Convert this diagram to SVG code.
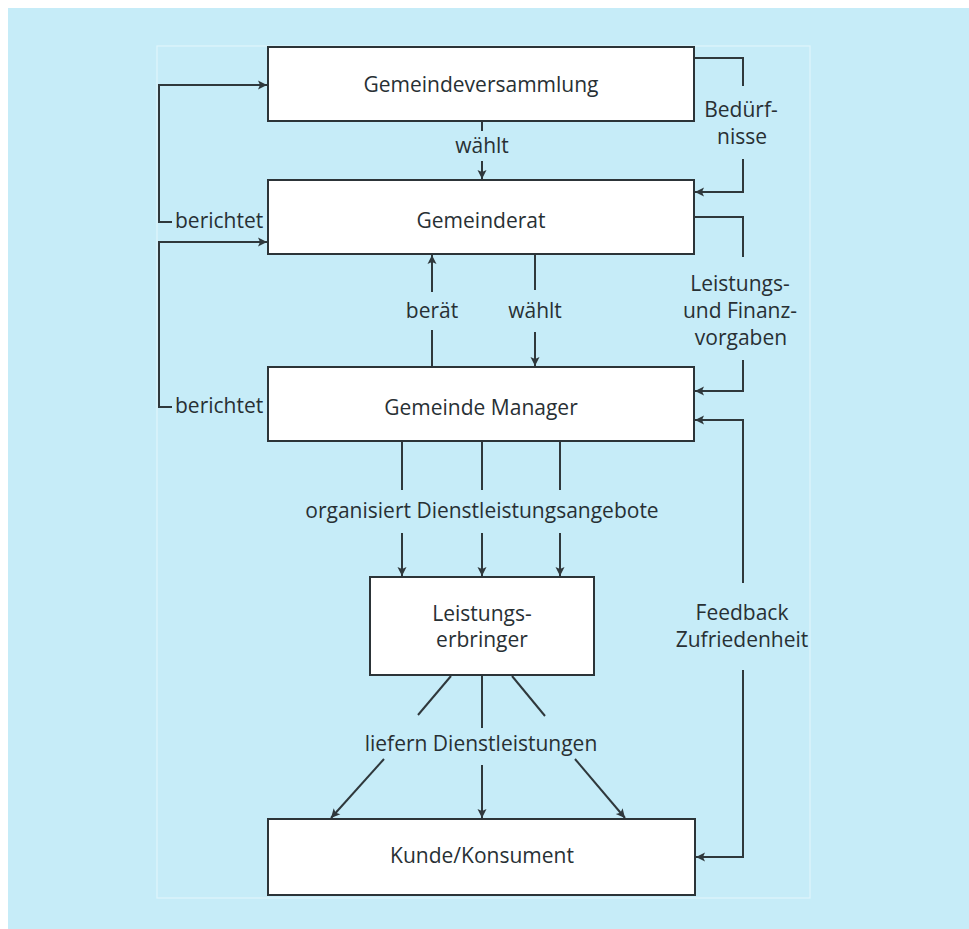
<svg xmlns="http://www.w3.org/2000/svg" width="969" height="929" viewBox="0 0 969 929">
<style>
.box{fill:#ffffff;stroke:#2c3438;stroke-width:2}
.t{font-family:"Open Sans","Noto Sans","Liberation Sans",sans-serif;font-size:21px;fill:#283034;text-anchor:middle}
.ts{text-anchor:start}
.c{fill:none;stroke:#2f383c;stroke-width:2}
.ca{fill:none;stroke:#2f383c;stroke-width:2;marker-end:url(#ah)}
</style>
<defs>
<marker id="ah" markerUnits="userSpaceOnUse" markerWidth="12" markerHeight="12" refX="10" refY="6" orient="auto">
<path d="M1,1.5 L10,6 L1,10.5 L3,6 Z" fill="#2f383c"/>
</marker>
</defs>
<rect x="0" y="0" width="969" height="929" fill="#ffffff"/>
<rect x="8" y="8" width="961" height="921" fill="#c6ecf8"/>
<rect x="157" y="46" width="653" height="852" fill="none" stroke="#dff5fc" stroke-width="1.2"/>

<g id="connectors">
<!-- wählt 1 -->
<line class="c" x1="482" y1="121" x2="482" y2="131"/>
<line class="ca" x1="482" y1="161" x2="482" y2="179"/>
<!-- berät -->
<line class="c" x1="432" y1="367" x2="432" y2="330"/>
<line class="ca" x1="432" y1="292" x2="432" y2="255"/>
<!-- wählt 2 -->
<line class="c" x1="535" y1="254" x2="535" y2="290"/>
<line class="ca" x1="535" y1="332" x2="535" y2="366"/>
<!-- organisiert -->
<line class="c" x1="402" y1="441" x2="402" y2="490"/>
<line class="c" x1="482" y1="441" x2="482" y2="490"/>
<line class="c" x1="560" y1="441" x2="560" y2="490"/>
<line class="ca" x1="402" y1="533" x2="402" y2="576"/>
<line class="ca" x1="482" y1="533" x2="482" y2="576"/>
<line class="ca" x1="560" y1="533" x2="560" y2="576"/>
<!-- liefern -->
<line class="c" x1="451" y1="676" x2="418" y2="715"/>
<line class="c" x1="482" y1="676" x2="482" y2="728"/>
<line class="c" x1="512" y1="676" x2="545" y2="716"/>
<line class="ca" x1="384" y1="759" x2="331" y2="818"/>
<line class="ca" x1="482" y1="765" x2="482" y2="818"/>
<line class="ca" x1="575" y1="759" x2="625" y2="818"/>
<!-- Bedürfnisse -->
<path class="c" d="M694,58 H743 V86"/>
<path class="ca" d="M743,159 V192 H695"/>
<!-- Leistungs- und Finanzvorgaben -->
<path class="c" d="M694,217 H743 V257"/>
<path class="ca" d="M743,360 V391 H695"/>
<!-- Feedback -->
<path class="ca" d="M743,583 V420 H695"/>
<path class="ca" d="M743,670 V857 H696"/>
<!-- berichtet -->
<path class="ca" d="M172,222 H159 V85 H267"/>
<path class="ca" d="M172,407 H159 V242 H267"/>
</g>

<g id="labels">
<text class="t" x="482" y="153">wählt</text>
<text class="t" x="432" y="318">berät</text>
<text class="t" x="535" y="318">wählt</text>
<text class="t" x="482" y="518">organisiert Dienstleistungsangebote</text>
<text class="t" x="481" y="751">liefern Dienstleistungen</text>
<text class="t" x="741" y="117">Bedürf-</text>
<text class="t" x="742" y="144">nisse</text>
<text class="t" x="740" y="291">Leistungs-</text>
<text class="t" x="740" y="318">und Finanz-</text>
<text class="t" x="741" y="345">vorgaben</text>
<text class="t" x="742" y="620">Feedback</text>
<text class="t" x="742" y="647">Zufriedenheit</text>
<text class="t ts" x="175" y="228">berichtet</text>
<text class="t ts" x="175" y="413">berichtet</text>
</g>

<g id="gemeindeversammlung">
<rect class="box" x="268" y="47" width="426" height="74"/>
<text class="t" x="481" y="92">Gemeindeversammlung</text>
</g>
<g id="gemeinderat">
<rect class="box" x="268" y="180" width="426" height="74"/>
<text class="t" x="481" y="228">Gemeinderat</text>
</g>
<g id="gemeinde-manager">
<rect class="box" x="268" y="367" width="426" height="74"/>
<text class="t" x="481" y="415">Gemeinde Manager</text>
</g>
<g id="leistungserbringer">
<rect class="box" x="370" y="577" width="224" height="98"/>
<text class="t" x="482" y="621">Leistungs-</text>
<text class="t" x="482" y="647">erbringer</text>
</g>
<g id="kunde-konsument">
<rect class="box" x="268" y="819" width="427" height="76"/>
<text class="t" x="482" y="863">Kunde/Konsument</text>
</g>
</svg>
